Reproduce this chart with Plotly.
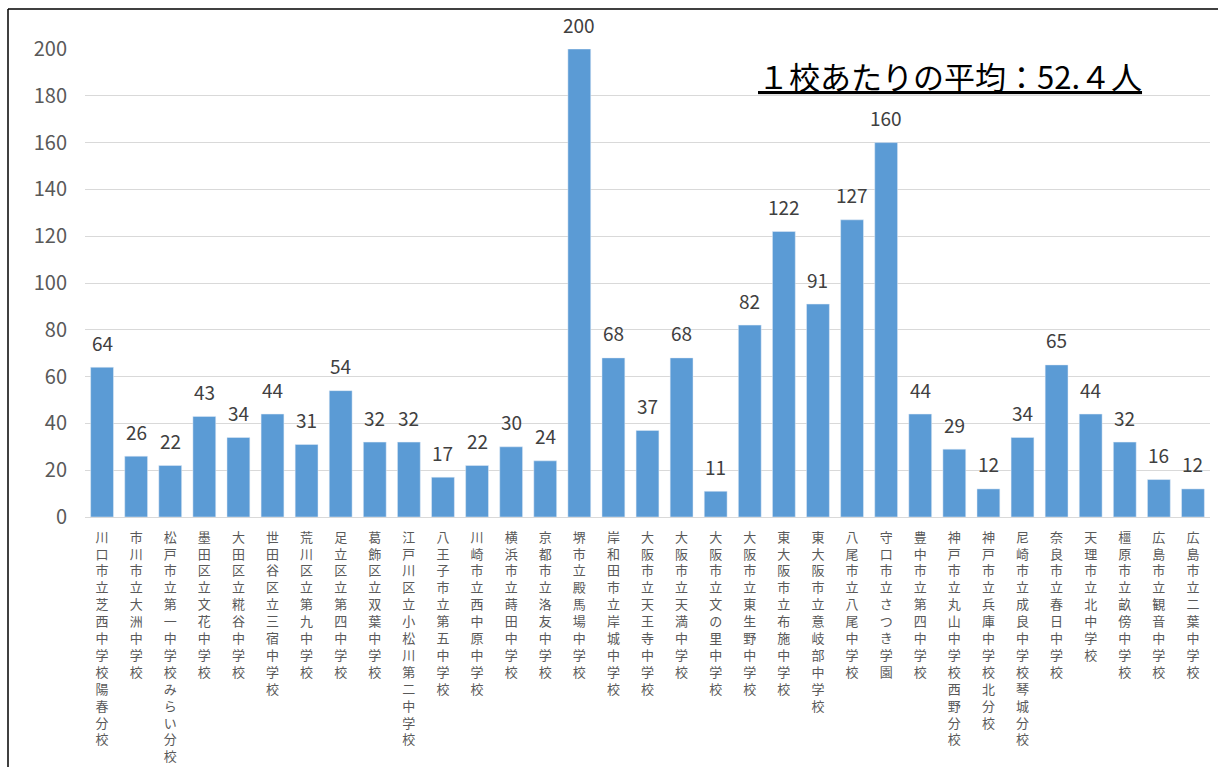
import plotly.graph_objects as go

schools = [
    "川口市立芝西中学校陽春分校", "市川市立大洲中学校", "松戸市立第一中学校みらい分校",
    "墨田区立文花中学校", "大田区立糀谷中学校", "世田谷区立三宿中学校", "荒川区立第九中学校",
    "足立区立第四中学校", "葛飾区立双葉中学校", "江戸川区立小松川第二中学校",
    "八王子市立第五中学校", "川崎市立西中原中学校", "横浜市立蒔田中学校", "京都市立洛友中学校",
    "堺市立殿馬場中学校", "岸和田市立岸城中学校", "大阪市立天王寺中学校", "大阪市立天満中学校",
    "大阪市立文の里中学校", "大阪市立東生野中学校", "東大阪市立布施中学校",
    "東大阪市立意岐部中学校", "八尾市立八尾中学校", "守口市立さつき学園", "豊中市立第四中学校",
    "神戸市立丸山中学校西野分校", "神戸市立兵庫中学校北分校", "尼崎市立成良中学校琴城分校",
    "奈良市立春日中学校", "天理市立北中学校", "橿原市立畝傍中学校", "広島市立観音中学校",
    "広島市立二葉中学校",
]
students = [64, 26, 22, 43, 34, 44, 31, 54, 32, 32, 17, 22, 30, 24, 200, 68, 37, 68, 11,
            82, 122, 91, 127, 160, 44, 29, 12, 34, 65, 44, 32, 16, 12]
y_ticks = list(range(0, 201, 20))
avg_text = "１校あたりの平均：52.４人"

FONT = "Noto Sans CJK JP"
W, H = 1218, 767
L, R, T, B = 85, 8, 49, 250
pw, ph = W - L - R, H - T - B

def px_x(p):
    return (p - L) / pw

def px_y(p):
    return (H - B - p) / ph

vertical = ["<br>".join(list(s)) for s in schools]

fig = go.Figure(go.Bar(
    x=schools, y=students,
    marker=dict(color="#5B9BD5"),
    cliponaxis=False,
))

value_labels = [dict(
    x=s, y=v, xref="x", yref="y", text=str(v), showarrow=False,
    xanchor="center", yanchor="middle", yshift=25,
    font=dict(family=FONT, size=19, color="#404040"),
) for s, v in zip(schools, students)]

fig.update_layout(
    width=W, height=H,
    margin=dict(l=L, r=R, t=T, b=B, autoexpand=False),
    paper_bgcolor="white", plot_bgcolor="white",
    bargap=0.33, showlegend=False,
    font=dict(family=FONT, color="#595959"),
    xaxis=dict(
        tickmode="array", tickvals=schools, ticktext=vertical, tickangle=0,
        tickfont=dict(family=FONT, size=13, color="#595959"),
        showline=True, linecolor="#D9D9D9", linewidth=1, ticks="",
        showgrid=False, ticklabelstandoff=8, automargin=False,
    ),
    yaxis=dict(
        range=[0, 200], tickvals=y_ticks, showgrid=True, gridcolor="#D9D9D9",
        zeroline=False, showline=False, automargin=False,
        tickfont=dict(family=FONT, size=20, color="#595959"),
        ticklabelstandoff=17,
    ),
    annotations=value_labels + [dict(
        x=px_x(950), y=px_y(75), xref="paper", yref="paper",
        xanchor="center", yanchor="middle",
        text="<u>" + avg_text + "</u>", showarrow=False,
        font=dict(family=FONT, size=31, color="black"),
    )],
    shapes=[
        dict(type="line", xref="paper", yref="paper",
             x0=px_x(8), x1=px_x(1230), y0=px_y(9), y1=px_y(9),
             line=dict(color="black", width=1.5)),
        dict(type="line", xref="paper", yref="paper",
             x0=px_x(8), x1=px_x(8), y0=px_y(9), y1=px_y(780),
             line=dict(color="black", width=1.5)),
    ],
)

fig.write_html("out.html")
